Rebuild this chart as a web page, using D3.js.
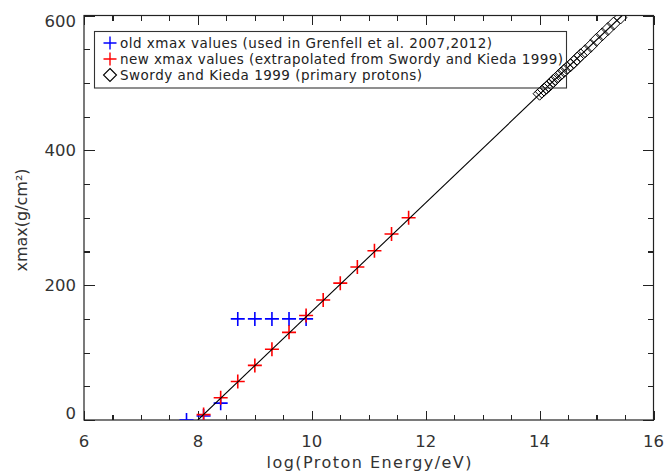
<!DOCTYPE html>
<html>
<head>
<meta charset="utf-8">
<script src="https://cdn.jsdelivr.net/npm/d3@7"></script>
<style>
  html, body { margin: 0; padding: 0; background: #fff; }
  svg { display: block; font-family: "DejaVu Sans", sans-serif; }
  .axis path, .axis line { stroke: #222; stroke-width: 1.1; shape-rendering: crispEdges; }
</style>
</head>
<body>
<svg id="chart" width="667" height="472"></svg>
<script>
/*
 * xmax vs log(proton energy) — old / new xmax values + Swordy & Kieda 1999
 */

/* ── données ──────────────────────────────────────────────── */
var oldX = [7.8, 8.1, 8.4, 8.7, 9.0, 9.3, 9.6, 9.9];
var oldY = [0, 6, 25, 150, 150, 150, 150, 150];

var newX = [8.1, 8.4, 8.7, 9.0, 9.3, 9.6, 9.9, 10.2, 10.5, 10.8, 11.1, 11.4, 11.7];
var newY = [8, 33, 57, 81, 105, 130, 155, 178, 203, 227, 251, 276, 300];

var skX = [14.00, 14.04, 14.08, 14.12, 14.16, 14.20, 14.24, 14.28, 14.33, 14.38, 14.43, 14.48,
           14.54, 14.60, 14.66, 14.72, 14.80, 14.90, 15.00, 15.10, 15.20, 15.30, 15.42];
var skY = [484, 487, 490, 493, 496, 499, 503, 506, 510, 514, 518, 522,
           526, 531, 536, 541, 547, 555, 564, 572, 580, 588, 597];

var fitX = [8.0, 15.45];
var fitY = [0, 600];

var xMajor = [6, 8, 10, 12, 14, 16];
var yMajor = [0, 200, 400, 600];

var legendLabels = [
  'old xmax values (used in Grenfell et al. 2007,2012)',
  'new xmax values (extrapolated from Swordy and Kieda 1999)',
  'Swordy and Kieda 1999 (primary protons)'
];
var legendWidths = [372, 443, 302];

(function () {
  'use strict';

  var svg = d3.select('#chart');

  var L = 84, R = 653.5, T = 15.5, B = 420;

  var x = d3.scaleLinear().domain([6, 16]).range([L, R]);
  var y = d3.scaleLinear().domain([0, 600]).range([B, T]);

  var xMinor = d3.range(6, 16.01, 0.5);
  var yMinor = d3.range(0, 600.1, 50);

  /* ── axes (4 côtés, style IDL) ─────────────────────────── */
  function drawAxis(axisFn, scale, values, size, tr) {
    svg.append('g')
      .attr('class', 'axis')
      .attr('transform', tr)
      .call(axisFn(scale).tickValues(values).tickSize(size).tickFormat(''))
      .call(function (g) { g.select('.domain').remove(); });
  }

  drawAxis(d3.axisTop,    x, xMinor, 5,  'translate(0,' + B + ')');
  drawAxis(d3.axisTop,    x, xMajor, 9,  'translate(0,' + B + ')');
  drawAxis(d3.axisBottom, x, xMinor, 5,  'translate(0,' + T + ')');
  drawAxis(d3.axisBottom, x, xMajor, 9,  'translate(0,' + T + ')');
  drawAxis(d3.axisRight,  y, yMinor, 6,  'translate(' + L + ',0)');
  drawAxis(d3.axisRight,  y, yMajor, 11, 'translate(' + L + ',0)');
  drawAxis(d3.axisLeft,   y, yMinor, 6,  'translate(' + R + ',0)');
  drawAxis(d3.axisLeft,   y, yMajor, 11, 'translate(' + R + ',0)');

  svg.append('rect')
    .attr('x', L).attr('y', T)
    .attr('width', R - L).attr('height', B - T)
    .attr('fill', 'none')
    .attr('stroke', '#222')
    .attr('stroke-width', 1.2);

  /* libellés des graduations */
  svg.append('g').selectAll('text')
    .data(xMajor)
    .enter().append('text')
    .attr('x', function (d) { return x(d); })
    .attr('y', 447)
    .attr('text-anchor', 'middle')
    .attr('font-size', 16.5)
    .attr('fill', '#333')
    .text(function (d) { return d; });

  svg.append('g').selectAll('text')
    .data(yMajor)
    .enter().append('text')
    .attr('x', 76)
    .attr('y', function (d) {
      if (d === 0) return y(d) - 1;
      if (d === 600) return y(d) + 11.5;
      return y(d) + 6;
    })
    .attr('text-anchor', 'end')
    .attr('font-size', 16.5)
    .attr('fill', '#333')
    .text(function (d) { return d; });

  svg.append('text')
    .attr('x', 369)
    .attr('y', 468)
    .attr('text-anchor', 'middle')
    .attr('font-size', 16)
    .attr('fill', '#333')
    .attr('textLength', 205)
    .text('log(Proton Energy/eV)');

  svg.append('text')
    .attr('transform', 'translate(27,220) rotate(-90)')
    .attr('text-anchor', 'middle')
    .attr('font-size', 16)
    .attr('fill', '#333')
    .text('xmax(g/cm²)');

  /* ── tracés, découpés sur la zone du graphe ─────────────── */
  svg.append('clipPath').attr('id', 'plot-clip')
    .append('rect')
    .attr('x', L).attr('y', T)
    .attr('width', R - L).attr('height', B - T);

  var plot = svg.append('g').attr('clip-path', 'url(#plot-clip)');

  function plusPath(cx, cy, h) {
    return 'M' + (cx - h) + ',' + cy + 'H' + (cx + h) +
           'M' + cx + ',' + (cy - h) + 'V' + (cy + h);
  }
  function diamondPath(cx, cy, h) {
    return 'M' + cx + ',' + (cy - h) + 'L' + (cx + h) + ',' + cy +
           'L' + cx + ',' + (cy + h) + 'L' + (cx - h) + ',' + cy + 'Z';
  }

  plot.append('g').selectAll('path')
    .data(d3.zip(oldX, oldY))
    .enter().append('path')
    .attr('d', function (d) { return plusPath(x(d[0]), y(d[1]), 7); })
    .attr('stroke', '#0000ff')
    .attr('stroke-width', 1.6)
    .attr('fill', 'none');

  plot.append('g').selectAll('path')
    .data(d3.zip(newX, newY))
    .enter().append('path')
    .attr('d', function (d) { return plusPath(x(d[0]), y(d[1]), 7); })
    .attr('stroke', '#ff0000')
    .attr('stroke-width', 1.6)
    .attr('fill', 'none');

  var line = d3.line()
    .x(function (d) { return x(d[0]); })
    .y(function (d) { return y(d[1]); });

  plot.append('path')
    .datum(d3.zip(fitX, fitY))
    .attr('d', line)
    .attr('stroke', '#000')
    .attr('stroke-width', 1.1)
    .attr('fill', 'none');

  plot.append('g').selectAll('path')
    .data(d3.zip(skX, skY))
    .enter().append('path')
    .attr('d', function (d) { return diamondPath(x(d[0]), y(d[1]), 6.5); })
    .attr('stroke', '#000')
    .attr('stroke-width', 1)
    .attr('fill', 'none');

  /* ── légende ────────────────────────────────────────────── */
  var leg = svg.append('g');

  leg.append('rect')
    .attr('x', 94.5).attr('y', 31.5)
    .attr('width', 472).attr('height', 56.5)
    .attr('fill', 'none')
    .attr('stroke', '#333')
    .attr('stroke-width', 1.1);

  var legColors = ['#0000ff', '#ff0000', '#000'];

  legendLabels.forEach(function (label, i) {
    var cy = 43 + i * 16;
    leg.append('path')
      .attr('d', i < 2 ? plusPath(110, cy, 6.5) : diamondPath(110, cy, 6.5))
      .attr('stroke', legColors[i])
      .attr('stroke-width', i < 2 ? 1.4 : 1.1)
      .attr('fill', 'none');
    leg.append('text')
      .attr('x', 120)
      .attr('y', cy + 5)
      .attr('font-size', 13.5)
      .attr('fill', '#222')
      .attr('textLength', legendWidths[i])
      .attr('lengthAdjust', 'spacing')
      .text(label);
  });

})();
</script>
</body>
</html>
